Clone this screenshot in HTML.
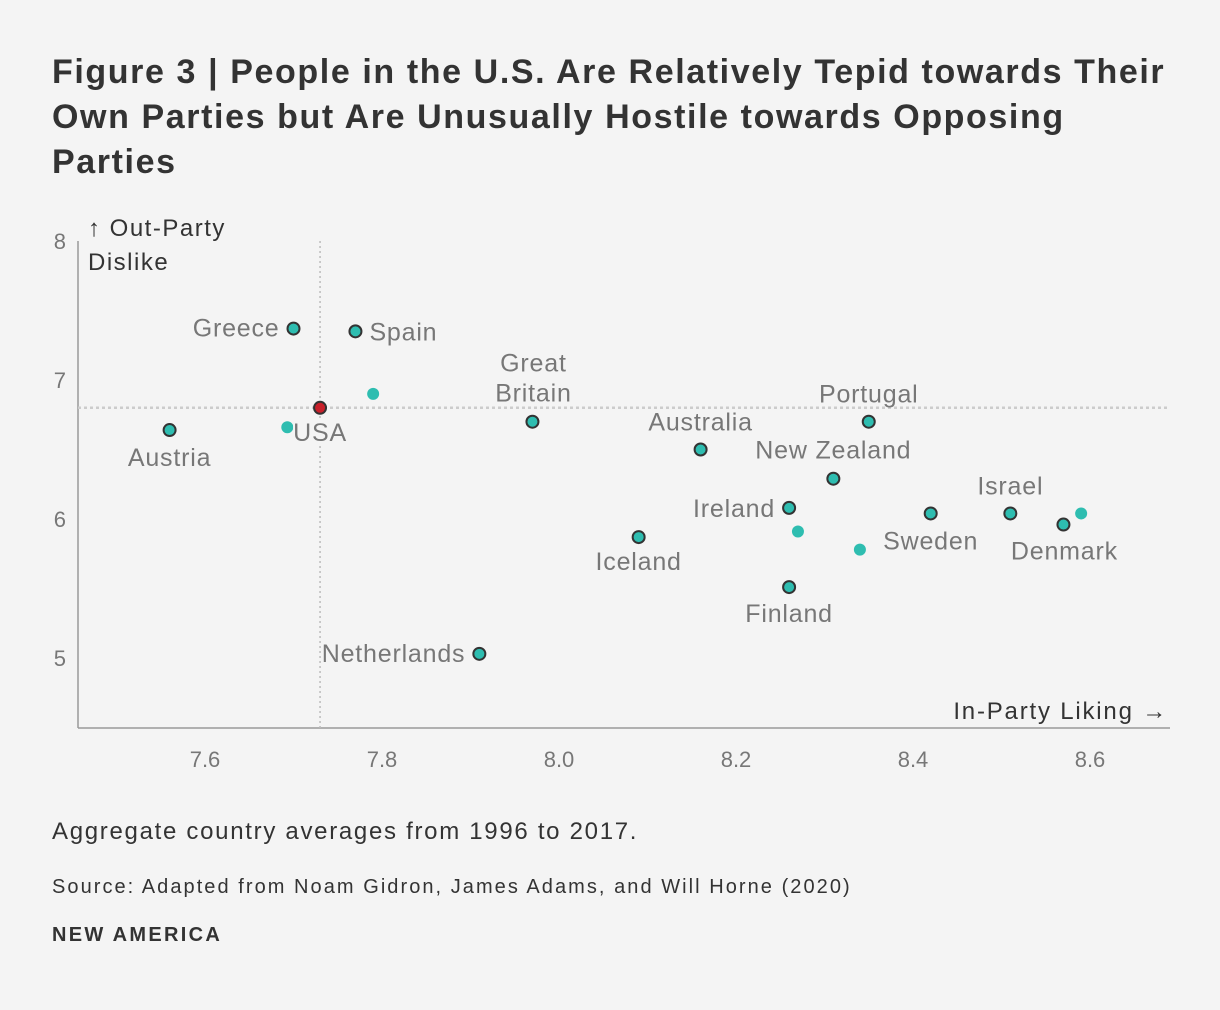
<!DOCTYPE html>
<html><head><meta charset="utf-8"><style>
body{margin:0;background:#f4f4f4;font-family:"Liberation Sans",sans-serif;}
#wrap{position:relative;width:1220px;height:1010px;overflow:hidden;background:#f4f4f4}
h1{position:absolute;left:52px;top:50px;margin:0;font-size:34px;line-height:45px;font-weight:bold;color:#333;width:1140px;letter-spacing:1.6px}
.t{position:absolute;color:#333}
</style></head><body>
<div id="wrap">
<h1>Figure 3 | People in the U.S. Are Relatively Tepid towards Their Own Parties but Are Unusually Hostile towards Opposing Parties</h1>
<svg id="chart" width="1220" height="800" style="position:absolute;left:0;top:0" font-family="Liberation Sans, sans-serif"></svg>
<div class="t" style="left:52px;top:818px;font-size:24px;letter-spacing:1.7px">Aggregate country averages from 1996 to 2017.</div>
<div class="t" style="left:52px;top:876px;font-size:20px;letter-spacing:2.05px">Source: Adapted from Noam Gidron, James Adams, and Will Horne (2020)</div>
<div class="t" style="left:52px;top:924px;font-size:20px;font-weight:bold;letter-spacing:2.3px">NEW AMERICA</div>
</div>
<script>
const countries=["Greece","Spain","","USA","","Austria","Great Britain","Australia","Portugal","New Zealand","Ireland","","Iceland","Sweden","","Israel","Denmark","","Finland","Netherlands"];
const inParty=[7.70,7.77,7.79,7.73,7.693,7.56,7.97,8.16,8.35,8.31,8.26,8.27,8.09,8.42,8.34,8.51,8.57,8.59,8.26,7.91];
const outParty=[7.37,7.35,6.90,6.80,6.66,6.64,6.70,6.50,6.70,6.29,6.08,5.91,5.87,6.04,5.78,6.04,5.96,6.04,5.51,5.03];
const xTicks=[7.6,7.8,8.0,8.2,8.4,8.6];
const yTicks=[5,6,7,8];
const usaX=7.73, usaY=6.80;
const X=v=>205+(v-7.6)*885;
const Y=v=>241+(8-v)*139;
const svg=document.getElementById('chart');
const NS='http://www.w3.org/2000/svg';
function mk(t,a,txt){const e=document.createElementNS(NS,t);for(const k in a)e.setAttribute(k,a[k]);if(txt!=null)e.textContent=txt;svg.appendChild(e);return e;}
let e;
e=mk('line',{x1:78,y1:241,x2:78,y2:728,stroke:'#999','stroke-width':1.5});


e=mk('line',{x1:78,y1:728,x2:1170,y2:728,stroke:'#999','stroke-width':1.5});


e=mk('line',{x1:X(usaX),y1:241,x2:X(usaX),y2:728,stroke:'#bbb','stroke-width':1.5,'stroke-dasharray':'2,3'});


e=mk('line',{x1:78,y1:Y(usaY),x2:1170,y2:Y(usaY),stroke:'#ccc','stroke-width':2.5,'stroke-dasharray':'3,3'});


xTicks.forEach(v=>{e=mk('text',{x:X(v),y:767,'text-anchor':'middle','font-size':22,fill:'#777'},v.toFixed(1));

});
yTicks.forEach(v=>{e=mk('text',{x:66,y:Y(v)+8,'text-anchor':'end','font-size':22,fill:'#777'},String(v));

});
e=mk('text',{x:88,y:236,'font-size':24,fill:'#333','letter-spacing':1.5},'↑ Out-Party');


e=mk('text',{x:88,y:270,'font-size':24,fill:'#333','letter-spacing':1.5},'Dislike');


e=mk('text',{x:1168,y:719,'text-anchor':'end','font-size':24,fill:'#333','letter-spacing':1.8},'In-Party Liking →');


const lab={"Greece":[-14,8,'end'],"Spain":[14,9,'start'],"USA":[0,33,'middle'],"Austria":[0,36,'middle'],
"Great Britain":[1,-50,'middle'],"Australia":[0,-19,'middle'],"Portugal":[0,-19,'middle'],"New Zealand":[0,-20,'middle'],
"Ireland":[-14,9,'end'],"Iceland":[0,33,'middle'],"Sweden":[0,36,'middle'],"Israel":[0,-19,'middle'],
"Denmark":[1,35,'middle'],"Finland":[0,35,'middle'],"Netherlands":[-14,8,'end']};
countries.forEach((c,i)=>{
 const cx=X(inParty[i]),cy=Y(outParty[i]);
 let p;
 if(c===''){p=mk('circle',{cx,cy,r:6,fill:'#2ebdb0'});}
 else p=mk('circle',{cx,cy,r:6,fill:c==='USA'?'#c8202a':'#2ebdb0',stroke:'#333','stroke-width':2});
 
 
});
countries.forEach((c,i)=>{
 if(!c)return;
 const cx=X(inParty[i]),cy=Y(outParty[i]);const o=lab[c];
 if(c==='Great Britain'){
  e=mk('text',{x:cx+o[0],y:cy+o[1],'text-anchor':'middle','font-size':25,fill:'#777','letter-spacing':0.8},'Great');
  
  
  e=mk('text',{x:cx+o[0],y:cy+o[1]+30,'text-anchor':'middle','font-size':25,fill:'#777','letter-spacing':0.8},'Britain');
  
  
  return;}
 if(c==='USA'){const r=mk('rect',{x:cx-27,y:cy+12,width:58,height:26,fill:'#f4f4f4'});
  
  }
 e=mk('text',{x:cx+o[0],y:cy+o[1],'text-anchor':o[2],'font-size':25,fill:'#777','letter-spacing':0.8},c);
 
 
});
</script>
</body></html>
